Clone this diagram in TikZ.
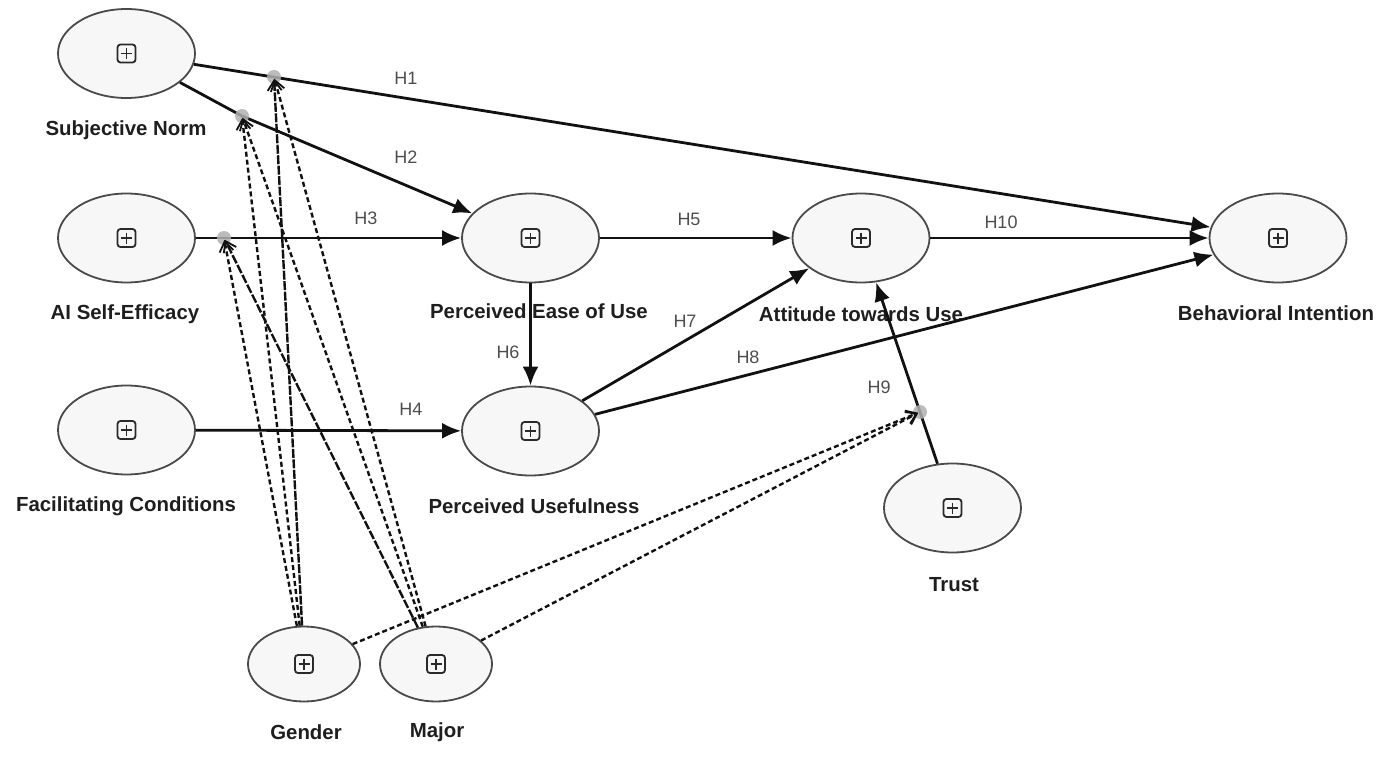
\documentclass[tikz,border=0pt]{standalone}
\usepackage{fontspec}
\setmainfont{Liberation Sans}
\usetikzlibrary{arrows.meta,shapes.geometric}

\definecolor{edgegray}{HTML}{4A4A4A}
\definecolor{nodefill}{HTML}{F7F7F7}
\definecolor{linecol}{HTML}{111111}
\definecolor{labelcol}{HTML}{1E1E1E}
\definecolor{hypcol}{HTML}{4D4D4D}
\definecolor{dotgray}{HTML}{B0B0B0}
\definecolor{iconcol}{HTML}{2A2A2A}

\begin{document}
\begin{tikzpicture}[x=1pt,y=-1pt,
  construct/.style={ellipse, draw=edgegray, line width=1.8pt, fill=nodefill,
    minimum width=137pt, minimum height=89pt, inner sep=0pt},
  smallconstruct/.style={construct, minimum width=112pt, minimum height=75pt},
  lbl/.style={font=\fontsize{20.4}{21}\selectfont\bfseries, text=labelcol, inner sep=0pt},
  hyp/.style={font=\fontsize{18}{18}\selectfont, text=hypcol, inner sep=0pt},
  hpath/.style={draw=linecol, line width=2.8pt, -{Latex[length=19pt,width=16pt]}},
  modline/.style={draw=linecol, line width=2.4pt, dash pattern=on 5pt off 3pt,
    shorten >=2pt, -{Straight Barb[length=10pt,width=14pt,line width=1.8pt]}},
  moddot/.style={fill=dotgray, opacity=0.85},
  plusicon/.pic={
    \draw[draw=iconcol, line width=1.8pt, rounded corners=3pt] (-9,-9) rectangle (9,9);
    \draw[draw=iconcol, line width=1.8pt] (-5.5,0) -- (5.5,0) (0,-5.5) -- (0,5.5);
  }
]
\useasboundingbox (0,0) rectangle (1398,760);

% constructs
\node[construct] (sn)   at (126.5,53.5) {};
\node[construct] (aise) at (126.5,238) {};
\node[construct] (fc)   at (126.5,430) {};
\node[construct] (peu)  at (530.5,238) {};
\node[construct] (pu)   at (530.5,431) {};
\node[construct] (atu)  at (861,238) {};
\node[construct] (bi)   at (1278,238) {};
\node[construct] (tr)   at (952.5,508) {};
\node[smallconstruct] (gen) at (304,664) {};
\node[smallconstruct] (maj) at (436,664) {};

\foreach \n in {sn,aise,fc,peu,pu,atu,bi,tr,gen,maj}
  \pic at (\n) {plusicon};

% construct names
\node[lbl] (snl)   at (126,130) {Subjective Norm};
\node[lbl] (aisel) at (125,314) {AI Self-Efficacy};
\node[lbl] (fcl)   at (126,506) {Facilitating Conditions};
\node[lbl] (peul)  at (539,311) {Perceived Ease of Use};
\node[lbl] (pul)   at (534,506) {Perceived Usefulness};
\node[lbl] (atul)  at (861,314) {Attitude towards Use};
\node[lbl] (bil)   at (1276,313) {Behavioral Intention};
\node[lbl] (trl)   at (954,585) {Trust};
\node[lbl] (genl)  at (306,732) {Gender};
\node[lbl] (majl)  at (437,732) {Major};

% points where the moderators act on a path
\coordinate (m1) at (274,77);
\coordinate (m2) at (242,116);
\coordinate (m3) at (224,238);
\coordinate (m9) at (920,412);

% structural paths
\draw[hpath] (sn) -- (bi);
\draw[hpath] (sn) -- (m2) -- (peu);
\draw[hpath] (aise) -- (peu);
\draw[hpath] (fc) -- (pu);
\draw[hpath] (peu) -- (atu);
\draw[hpath] (peu) -- (pu);
\draw[hpath] (pu) -- (atu);
\draw[hpath] (pu) -- (bi);
\draw[hpath] (tr) -- (atu);
\draw[hpath] (atu) -- (bi);

% moderation points
\foreach \m in {m1,m2,m3,m9}
  \fill[moddot] (\m) circle (7);

% moderating effects
\draw[modline, dash pattern=on 9pt off 1.5pt] (gen) -- (m1);
\draw[modline] (gen) -- (m2);
\draw[modline] (gen) -- (m3);
\draw[modline] (gen) -- (m9);
\draw[modline] (maj) -- (m1);
\draw[modline] (maj) -- (m2);
\draw[modline, dash pattern=on 9pt off 2pt] (maj) -- (m3);
\draw[modline] (maj) -- (m9);

% hypothesis labels
\node[hyp] (h1)  at (406,78)  {H1};
\node[hyp] (h2)  at (406,157) {H2};
\node[hyp] (h3)  at (366,218) {H3};
\node[hyp] (h4)  at (411,409) {H4};
\node[hyp] (h5)  at (689,219) {H5};
\node[hyp] (h6)  at (508,352) {H6};
\node[hyp] (h7)  at (685,321) {H7};
\node[hyp] (h8)  at (748,357) {H8};
\node[hyp] (h9)  at (879,387) {H9};
\node[hyp] (h10) at (1001,222) {H10};
\end{tikzpicture}
\end{document}
